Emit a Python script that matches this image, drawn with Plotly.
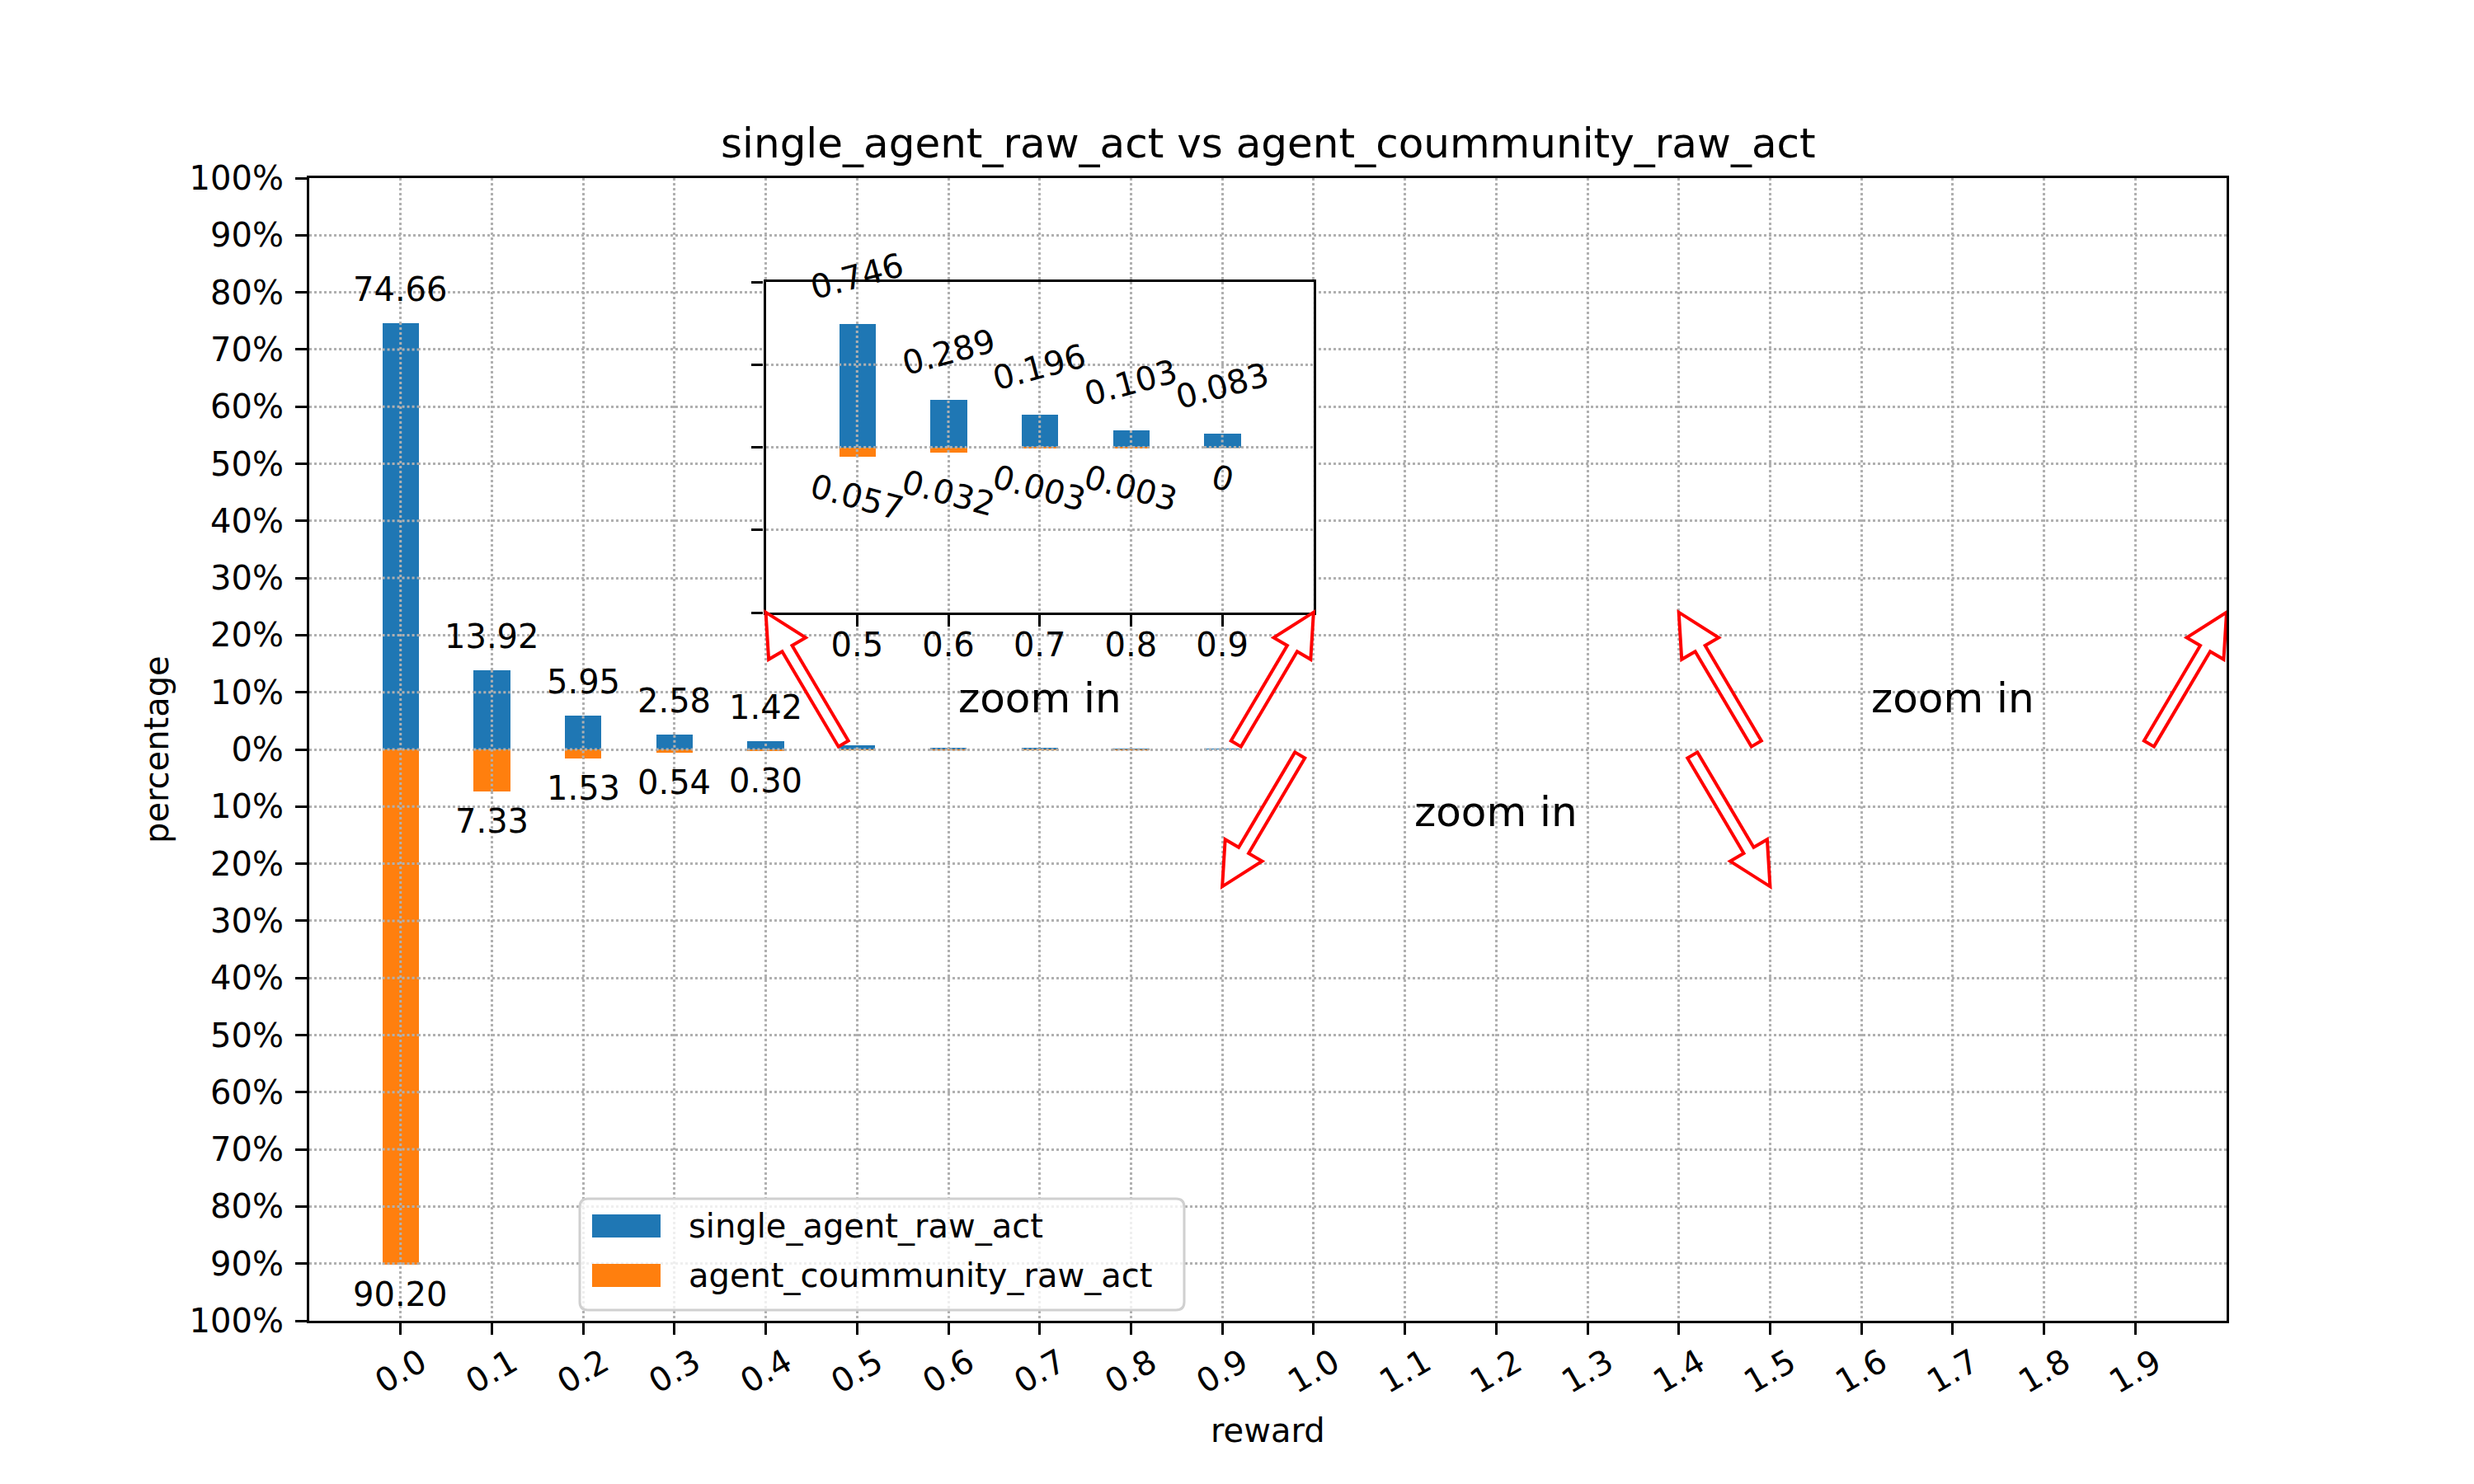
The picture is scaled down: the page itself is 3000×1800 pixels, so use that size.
import plotly.graph_objects as go

# data
rewards = [0.0, 0.1, 0.2, 0.3, 0.4, 0.5, 0.6, 0.7, 0.8, 0.9,
           1.0, 1.1, 1.2, 1.3, 1.4, 1.5, 1.6, 1.7, 1.8, 1.9]
reward_labels = ['0.0', '0.1', '0.2', '0.3', '0.4', '0.5', '0.6', '0.7', '0.8', '0.9',
                 '1.0', '1.1', '1.2', '1.3', '1.4', '1.5', '1.6', '1.7', '1.8', '1.9']
single_agent = [74.66, 13.92, 5.95, 2.58, 1.42, 0.746, 0.289, 0.196, 0.103, 0.083,
                0, 0, 0, 0, 0, 0, 0, 0, 0, 0]
community = [90.20, 7.33, 1.53, 0.54, 0.30, 0.057, 0.032, 0.003, 0.003, 0,
             0, 0, 0, 0, 0, 0, 0, 0, 0, 0]
pct_ticks = [-100, -90, -80, -70, -60, -50, -40, -30, -20, -10, 0,
             10, 20, 30, 40, 50, 60, 70, 80, 90, 100]
inset_ticks = [-1, -0.5, 0, 0.5, 1]
series_names = ['single_agent_raw_act', 'agent_coummunity_raw_act']
colors = ['#1f77b4', '#ff7f0e']

BLUE, ORANGE = colors
FONT = 'DejaVu Sans'
FS = 40
FS_BIG = 50
GRID = '#b0b0b0'
BAR_W = 0.04
LW = 3.2

# figure geometry (pixels)
W, H = 3000, 1800
L, R, T, B = 375, 2700, 216, 1602
XMIN, XMAX = -0.1, 2.0
YMIN, YMAX = -100, 100


def px(x, y):
    return (L + (x - XMIN) / (XMAX - XMIN) * (R - L),
            B - (y - YMIN) / (YMAX - YMIN) * (B - T))


def data(x, y):
    return (XMIN + (x - L) / (R - L) * (XMAX - XMIN),
            YMIN + (B - y) / (B - T) * (YMAX - YMIN))


def pap(x, y):
    return (x - L) / (R - L), (B - y) / (B - T)


def rot_half(s):
    # half height of a label rotated by 15 degrees
    w = sum(12.7 if ch == '.' else 25.4 for ch in s)
    return (0.26 * w + 28) / 2


fig = go.Figure()

# main bars
fig.add_trace(go.Bar(x=rewards, y=single_agent, width=BAR_W, marker_color=BLUE,
                     marker_line_width=0, showlegend=False))
fig.add_trace(go.Bar(x=rewards, y=[-v for v in community], width=BAR_W, marker_color=ORANGE,
                     marker_line_width=0, showlegend=False))

# inset bars (0.5 - 0.9)
ins = slice(5, 10)
in_x = rewards[ins]
in_s = single_agent[ins]
in_c = community[ins]
fig.add_trace(go.Bar(x=in_x, y=in_s, width=BAR_W, marker_color=BLUE, marker_line_width=0,
                     showlegend=False, xaxis='x2', yaxis='y2'))
fig.add_trace(go.Bar(x=in_x, y=[-v for v in in_c], width=BAR_W, marker_color=ORANGE,
                     marker_line_width=0, showlegend=False, xaxis='x2', yaxis='y2'))

ann = []
shapes = []
txt = dict(family=FONT, size=FS, color='black')

# value labels on the main chart
for x, s, c in zip(rewards[:5], single_agent[:5], community[:5]):
    ann.append(dict(x=x, y=s, xref='x', yref='y', text=f'{s:.2f}', showarrow=False,
                    font=txt, yanchor='middle', yshift=41))
    ann.append(dict(x=x, y=-c, xref='x', yref='y', text=f'{c:.2f}', showarrow=False,
                    font=txt, yanchor='middle', yshift=-36))

# value labels in the inset
for x, s, c in zip(in_x, in_s, in_c):
    ts = '0' if s == 0 else f'{s:.3f}'
    tc = '0' if c == 0 else f'{c:.3f}'
    ann.append(dict(x=x, y=s, xref='x2', yref='y2', text=ts, showarrow=False, font=txt,
                    textangle=-15, yanchor='middle', yshift=29 + rot_half(ts)))
    ann.append(dict(x=x, y=-c, xref='x2', yref='y2', text=tc, showarrow=False, font=txt,
                    textangle=15, yanchor='middle', yshift=-(20 + rot_half(tc))))

# rotated x tick labels (centred on the tick like matplotlib)
for x, lab in zip(rewards, reward_labels):
    ann.append(dict(x=x, y=0, xref='x', yref='paper', text=lab, showarrow=False,
                    font=txt, textangle=-30, yanchor='middle', yshift=-61))

# title and axis titles
ann.append(dict(x=0.5, y=1, xref='paper', yref='paper', showarrow=False,
                text='single_agent_raw_act vs agent_coummunity_raw_act',
                font=dict(family=FONT, size=FS_BIG, color='black'), yanchor='middle', yshift=42))
ann.append(dict(x=0.5, y=0, xref='paper', yref='paper', showarrow=False, text='reward',
                font=txt, yanchor='middle', yshift=-133))
ann.append(dict(x=0, y=0.5, xref='paper', yref='paper', showarrow=False, text='percentage',
                font=txt, textangle=-90, xanchor='center', xshift=-185))

# "zoom in" notes
for x, y in [(0.70, 9), (1.20, -11), (1.70, 9)]:
    ann.append(dict(x=x, y=y, xref='x', yref='y', text='zoom in', showarrow=False,
                    font=dict(family=FONT, size=FS_BIG, color='black')))

# outlined red arrows (tail -> head, data coords)
arrows = [((0.485, 1.0), (0.40, 24.0)), ((0.915, 1.0), (1.0, 24.0)),
          ((0.985, -1.0), (0.90, -24.0)), ((1.415, -1.0), (1.50, -24.0)),
          ((1.485, 1.0), (1.40, 24.0)), ((1.915, 1.0), (2.0, 24.0))]
tw, hw, hl = 7, 26, 51
for (t, h) in arrows:
    tx, ty = px(*t)
    hx, hy = px(*h)
    dx, dy = hx - tx, hy - ty
    ln = (dx * dx + dy * dy) ** 0.5
    ux, uy = dx / ln, dy / ln
    nx, ny = -uy, ux
    bx, by = hx - ux * hl, hy - uy * hl
    pts = [(tx + nx * tw, ty + ny * tw), (bx + nx * tw, by + ny * tw),
           (bx + nx * hw, by + ny * hw), (hx, hy),
           (bx - nx * hw, by - ny * hw), (bx - nx * tw, by - ny * tw),
           (tx - nx * tw, ty - ny * tw)]
    dp = [data(*p) for p in pts]
    path = 'M ' + ' L '.join(f'{a:.5f},{b:.5f}' for a, b in dp) + ' Z'
    shapes.append(dict(type='path', path=path, xref='x', yref='y', layer='above',
                       fillcolor='white', line=dict(color='red', width=4)))

# grid lines drawn over the bars (matplotlib puts the grid above patches)
dot = dict(color=GRID, width=3, dash='dot')
for x, s, c in zip(rewards, single_agent, community):
    if s == 0 and c == 0:
        continue
    shapes.append(dict(type='line', xref='x', yref='y', x0=x, x1=x, y0=-c, y1=s,
                       layer='above', line=dot))
    for t in pct_ticks:
        if -c <= t <= s:
            shapes.append(dict(type='line', xref='x', yref='y', x0=x - BAR_W / 2,
                               x1=x + BAR_W / 2, y0=t, y1=t, layer='above', line=dot))
for x, s, c in zip(in_x, in_s, in_c):
    shapes.append(dict(type='line', xref='x2', yref='y2', x0=x, x1=x, y0=-c, y1=s,
                       layer='above', line=dot))
    for t in inset_ticks:
        if -c <= t <= s:
            shapes.append(dict(type='line', xref='x2', yref='y2', x0=x - BAR_W / 2,
                               x1=x + BAR_W / 2, y0=t, y1=t, layer='above', line=dot))

# legend box drawn by hand (matplotlib style patches)
lx0, ly0 = pap(703, 1589)
lx1, ly1 = pap(1436, 1454)
rx, ry = 10 / (R - L), 10 / (B - T)
frame = (f'M {lx0 + rx},{ly0} L {lx1 - rx},{ly0} Q {lx1},{ly0} {lx1},{ly0 + ry} '
         f'L {lx1},{ly1 - ry} Q {lx1},{ly1} {lx1 - rx},{ly1} L {lx0 + rx},{ly1} '
         f'Q {lx0},{ly1} {lx0},{ly1 - ry} L {lx0},{ly0 + ry} Q {lx0},{ly0} {lx0 + rx},{ly0} Z')
shapes.append(dict(type='path', path=frame, xref='paper', yref='paper', layer='above',
                   fillcolor='rgba(255,255,255,0.8)', line=dict(color='#d0d0d0', width=3)))
for i, (name, col) in enumerate(zip(series_names, colors)):
    cy = 1487 + i * 60
    x0, y0 = pap(718, cy + 14)
    x1, y1 = pap(801, cy - 14)
    shapes.append(dict(type='rect', xref='paper', yref='paper', x0=x0, x1=x1, y0=y0, y1=y1,
                       layer='above', fillcolor=col, line=dict(width=0)))
    tx, ty = pap(833, cy)
    ann.append(dict(x=tx, y=ty, xref='paper', yref='paper', text=name, showarrow=False,
                    font=txt, xanchor='left', yanchor='middle'))

# inset placement (pixels)
ix0, _ = px(0.4, 0)
ix1, _ = px(1.0, 0)
ib, it = 743, 342

axis_common = dict(showline=True, mirror=True, linecolor='black', linewidth=LW,
                   ticks='outside', ticklen=14, tickwidth=LW, tickcolor='black',
                   showgrid=True, gridcolor=GRID, gridwidth=3, griddash='dot',
                   zeroline=False, tickfont=txt, automargin=False)

fig.update_layout(
    width=W, height=H,
    margin=dict(l=L, r=W - R, t=T, b=H - B, pad=0),
    paper_bgcolor='white', plot_bgcolor='white',
    barmode='relative', bargap=0,
    showlegend=False,
    font=dict(family=FONT, size=FS, color='black'),
    xaxis=dict(axis_common, range=[XMIN, XMAX], tickvals=rewards, showticklabels=False,
               domain=[0, 1]),
    yaxis=dict(axis_common, range=[YMIN, YMAX], tickvals=pct_ticks,
               ticktext=[f'{abs(v)}%' for v in pct_ticks], domain=[0, 1],
               ticklabelstandoff=6),
    xaxis2=dict(axis_common, range=[0.4, 1.0], tickvals=in_x,
                ticktext=reward_labels[ins], anchor='y2', ticklabelstandoff=-12,
                domain=[pap(ix0, 0)[0], pap(ix1, 0)[0]]),
    yaxis2=dict(axis_common, range=[-1, 1], tickvals=inset_ticks, showticklabels=False,
                anchor='x2', domain=[pap(0, ib)[1], pap(0, it)[1]]),
    annotations=ann,
    shapes=shapes,
)

# no default page margin, so the figure sits at the window origin
fig.write_html('out.html', config={'displayModeBar': False},
               post_script="document.body.style.margin='0px';")
